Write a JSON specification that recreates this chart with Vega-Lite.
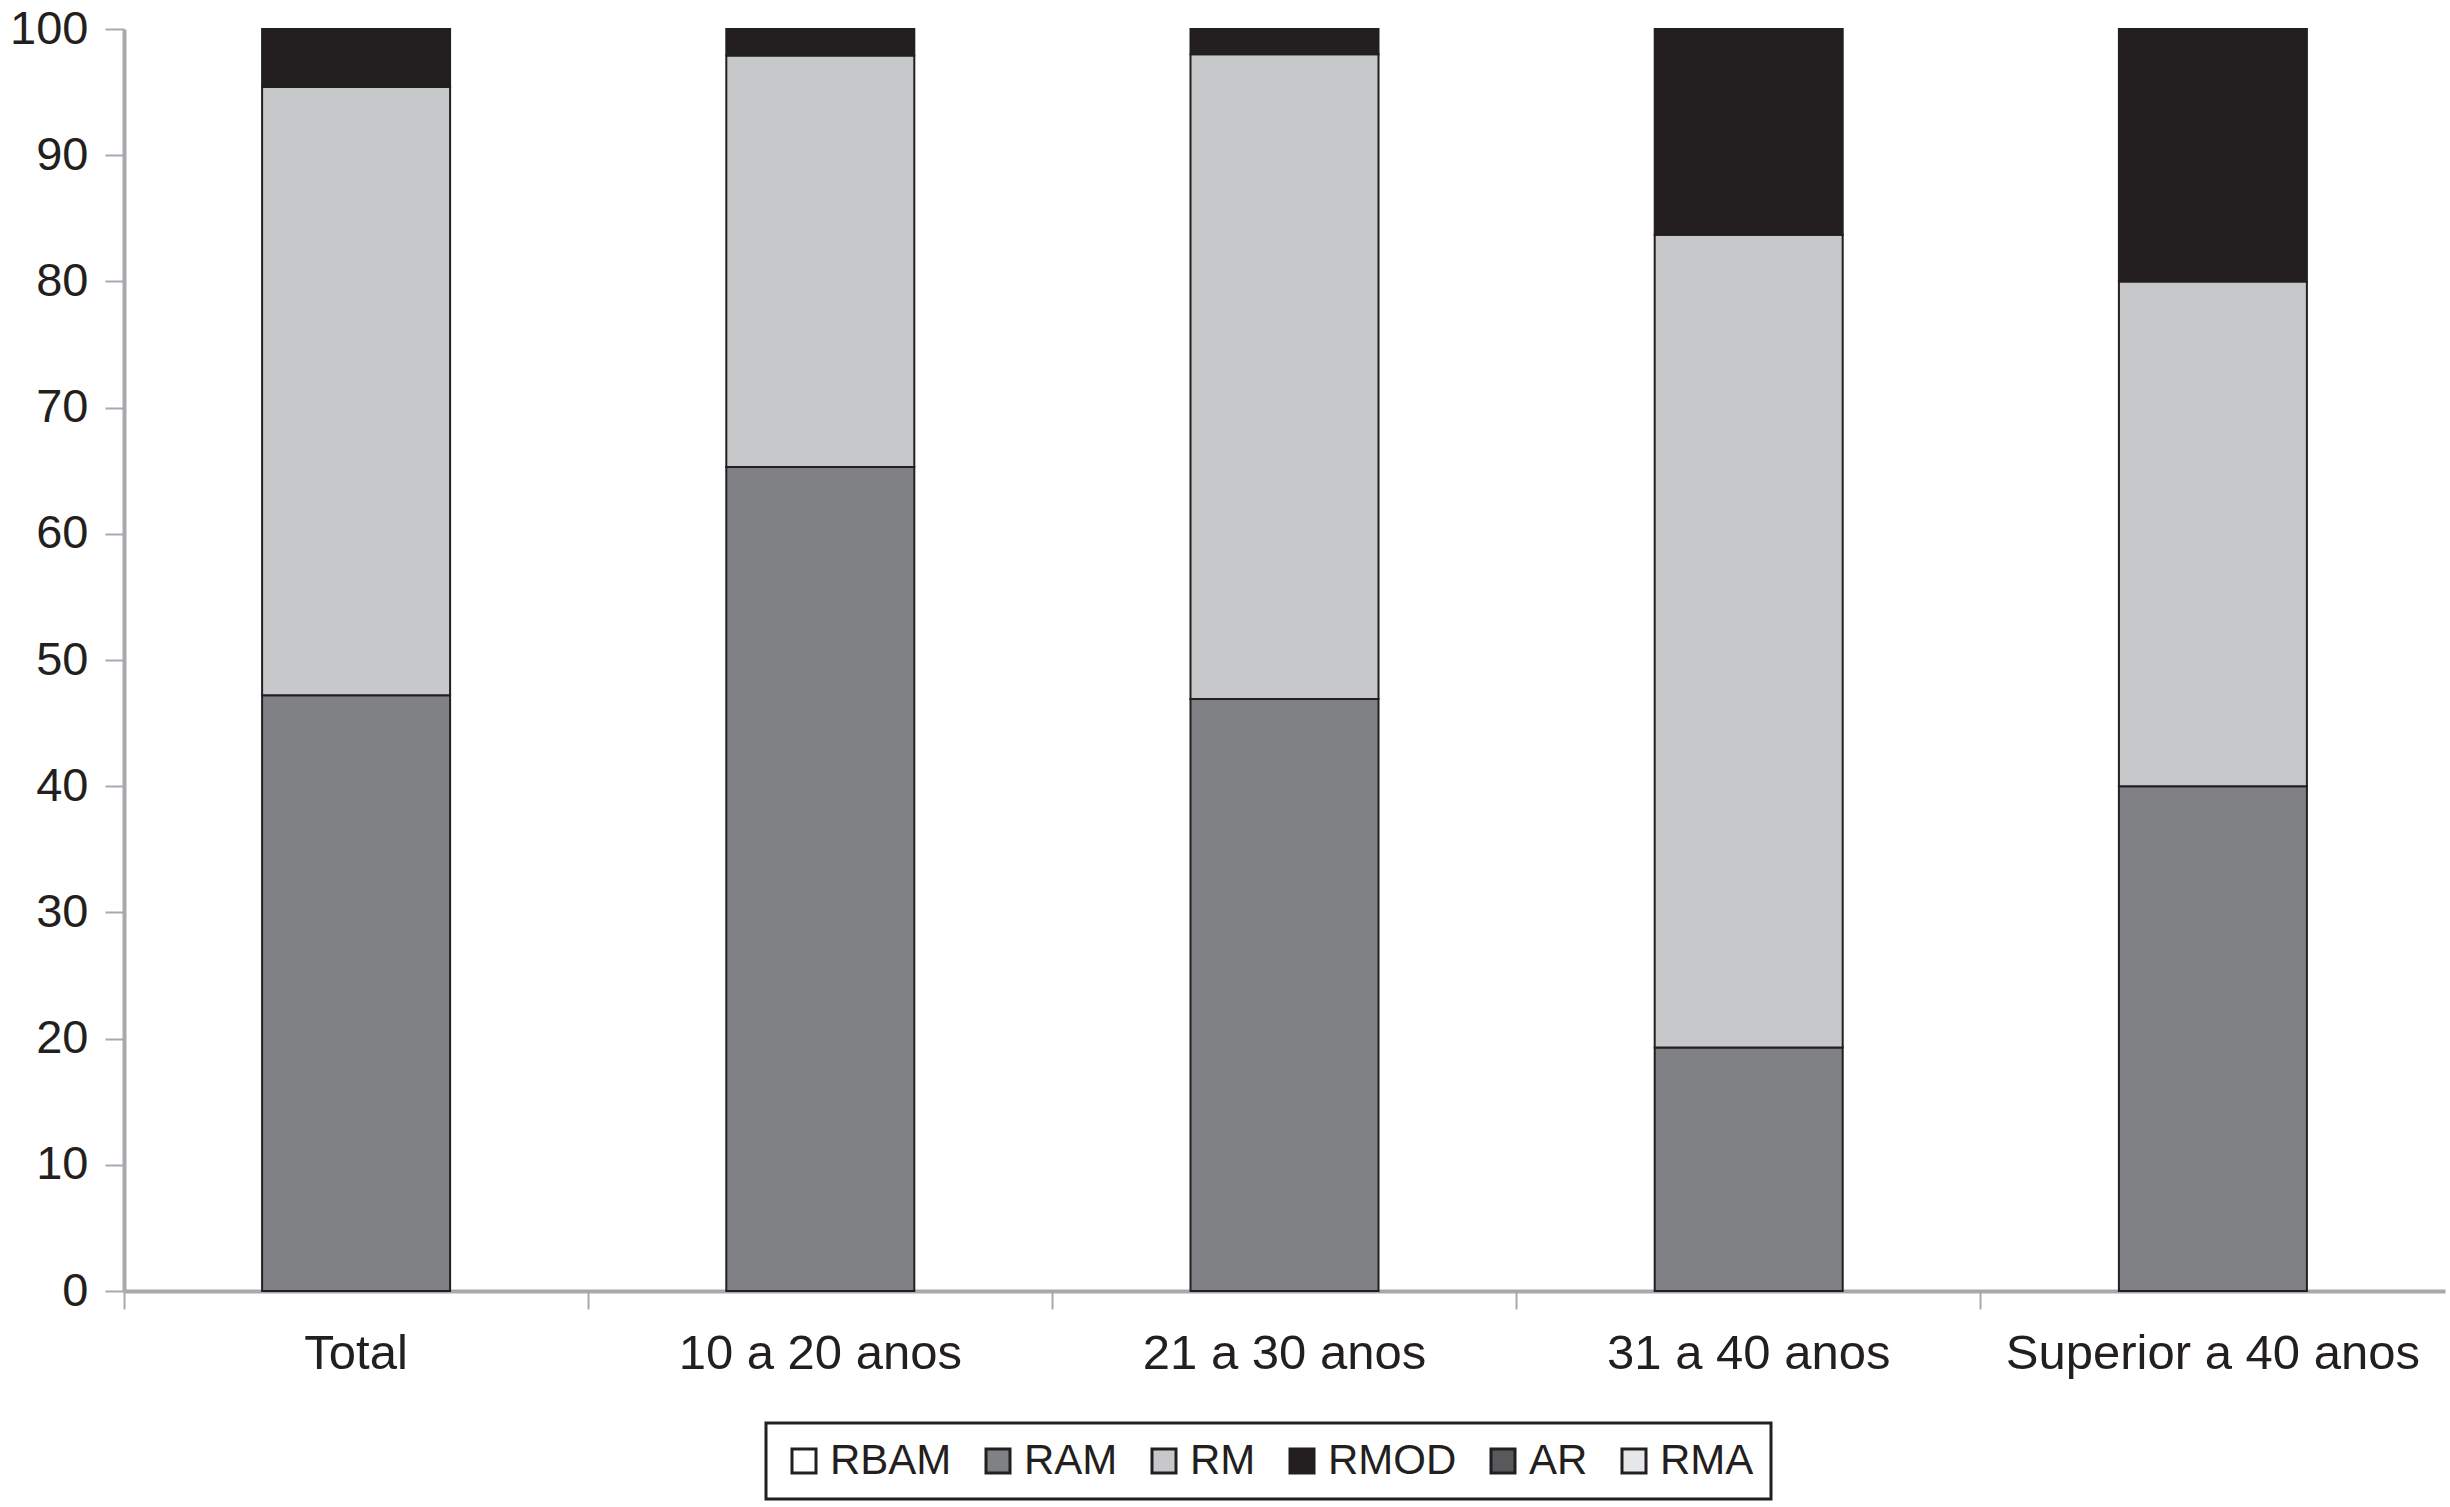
{
  "$schema": "https://vega.github.io/schema/vega-lite/v6.json",
  "width": 2321,
  "height": 1262,
  "autosize": {"type": "none"},
  "padding": {"left": 124, "top": 29, "right": 5, "bottom": 216},
  "background": "white",
  "data": {
    "values": [
      {"grupo": "Total", "classe": "RAM", "valor": 47.2},
      {"grupo": "Total", "classe": "RM", "valor": 48.2},
      {"grupo": "Total", "classe": "RMOD", "valor": 4.6},
      {"grupo": "10 a 20 anos", "classe": "RAM", "valor": 65.3},
      {"grupo": "10 a 20 anos", "classe": "RM", "valor": 32.6},
      {"grupo": "10 a 20 anos", "classe": "RMOD", "valor": 2.1},
      {"grupo": "21 a 30 anos", "classe": "RAM", "valor": 46.9},
      {"grupo": "21 a 30 anos", "classe": "RM", "valor": 51.1},
      {"grupo": "21 a 30 anos", "classe": "RMOD", "valor": 2.0},
      {"grupo": "31 a 40 anos", "classe": "RAM", "valor": 19.3},
      {"grupo": "31 a 40 anos", "classe": "RM", "valor": 64.4},
      {"grupo": "31 a 40 anos", "classe": "RMOD", "valor": 16.3},
      {"grupo": "Superior a 40 anos", "classe": "RAM", "valor": 40.0},
      {"grupo": "Superior a 40 anos", "classe": "RM", "valor": 40.0},
      {"grupo": "Superior a 40 anos", "classe": "RMOD", "valor": 20.0}
    ]
  },
  "mark": {"type": "bar", "width": {"band": 0.405}, "stroke": "#231f20", "strokeWidth": 2},
  "encoding": {
    "x": {
      "field": "grupo",
      "type": "nominal",
      "sort": ["Total", "10 a 20 anos", "21 a 30 anos", "31 a 40 anos", "Superior a 40 anos"],
      "scale": {"paddingInner": 0, "paddingOuter": 0},
      "axis": {
        "title": null,
        "labelAngle": 0,
        "bandPosition": 0,
        "labelFontSize": 49,
        "labelFont": "Liberation Sans",
        "labelColor": "#231f20",
        "labelPadding": 20,
        "labelLimit": 600,
        "tickSize": 18,
        "tickWidth": 2,
        "tickColor": "#a7a9ac",
        "domainColor": "#a7a9ac",
        "domainWidth": 4,
        "grid": false
      }
    },
    "y": {
      "field": "valor",
      "type": "quantitative",
      "stack": "zero",
      "scale": {"domain": [0, 100], "nice": false},
      "axis": {
        "title": null,
        "values": [0, 10, 20, 30, 40, 50, 60, 70, 80, 90, 100],
        "labelFontSize": 47,
        "labelFont": "Liberation Sans",
        "labelColor": "#231f20",
        "labelPadding": 17,
        "tickSize": 19,
        "tickWidth": 2,
        "tickColor": "#a7a9ac",
        "domainColor": "#a7a9ac",
        "domainWidth": 4,
        "grid": false
      }
    },
    "order": {"field": "classe", "type": "nominal", "sort": "ascending"},
    "color": {
      "field": "classe",
      "type": "nominal",
      "scale": {
        "domain": ["RBAM", "RAM", "RM", "RMOD", "AR", "RMA"],
        "range": ["#ffffff", "#808184", "#c7c8ca", "#231f20", "#58595b", "#e6e7e8"]
      },
      "legend": {
        "title": null,
        "orient": "none",
        "legendX": 642,
        "legendY": 1394,
        "direction": "horizontal",
        "columns": 6,
        "symbolType": "square",
        "symbolSize": 576,
        "symbolStrokeColor": "#231f20",
        "symbolStrokeWidth": 3,
        "labelFontSize": 42,
        "labelFont": "Liberation Sans",
        "labelColor": "#231f20",
        "labelOffset": 5,
        "labelLimit": 400,
        "columnPadding": 25,
        "padding": 17,
        "strokeColor": "#231f20",
        "fillColor": "white"
      }
    }
  },
  "config": {
    "view": {"stroke": null},
    "legend": {"strokeWidth": 3}
  }
}
